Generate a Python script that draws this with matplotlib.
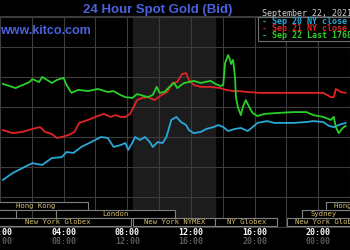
import matplotlib
matplotlib.use("Agg")
import matplotlib.pyplot as plt
from matplotlib.patches import Rectangle

# hours (NY time) and bid price for each day's trace
green_hours = [0.18, 0.98, 1.85, 2.03, 2.46, 2.65, 3.26, 3.57, 4.00, 4.18, 4.49, 4.92, 5.54, 6.15,
               6.77, 7.14, 7.57, 7.88, 8.31, 8.62, 9.29, 9.60, 9.85, 10.03, 10.34, 10.65, 10.95,
               11.14, 11.57, 11.88, 12.18, 12.62, 13.23, 13.54, 13.85, 14.03, 14.15, 14.34, 14.46,
               14.52, 14.65, 14.77, 14.83, 14.95, 15.14, 15.26, 15.45, 15.69, 15.88, 16.18, 16.62,
               17.42, 18.46, 19.26, 19.69, 20.31, 20.80, 20.98, 21.11, 21.29, 21.54, 21.72]
green_price = [1777.7, 1776.3, 1778.3, 1779.3, 1778.3, 1780.0, 1778.0, 1779.0, 1779.7, 1777.3,
               1774.7, 1775.7, 1775.3, 1776.0, 1775.0, 1775.3, 1774.0, 1773.3, 1773.0, 1774.3,
               1773.3, 1774.0, 1776.7, 1774.7, 1775.0, 1776.7, 1778.0, 1776.3, 1778.0, 1778.3,
               1778.7, 1778.0, 1778.7, 1777.7, 1777.0, 1777.3, 1784.7, 1787.3, 1785.7, 1784.3,
               1785.7, 1780.0, 1773.3, 1770.0, 1767.3, 1770.0, 1772.3, 1769.7, 1768.0, 1767.0,
               1767.7, 1768.0, 1768.3, 1768.3, 1767.3, 1766.7, 1765.7, 1766.7, 1763.3, 1761.3,
               1763.0, 1763.7]

red_hours = [0.18, 0.80, 1.42, 2.03, 2.52, 2.83, 3.26, 3.57, 3.88, 4.31, 4.68, 4.98, 5.54, 6.15,
             6.52, 6.95, 7.26, 7.57, 7.88, 8.18, 8.37, 8.62, 8.92, 9.29, 9.72, 10.15, 10.52, 10.83,
             11.14, 11.45, 11.69, 11.88, 12.18, 12.62, 13.23, 13.85, 14.22, 14.65, 14.95, 15.57,
             16.37, 17.42, 18.46, 19.69, 20.31, 20.80, 20.98, 21.11, 21.42, 21.72]
red_price = [1762.3, 1761.3, 1761.7, 1762.7, 1763.3, 1761.7, 1761.0, 1759.7, 1760.0, 1760.7,
             1761.7, 1764.7, 1765.7, 1767.0, 1767.7, 1766.7, 1767.3, 1766.7, 1766.7, 1767.7,
             1769.7, 1772.3, 1773.0, 1773.3, 1772.3, 1774.0, 1775.0, 1778.0, 1778.3, 1781.0,
             1781.3, 1779.0, 1777.3, 1776.7, 1776.7, 1776.3, 1775.7, 1775.3, 1775.3, 1775.0,
             1774.7, 1774.7, 1774.7, 1774.7, 1774.7, 1773.3, 1773.3, 1776.0, 1775.0, 1774.7]

cyan_hours = [0.18, 0.80, 1.42, 2.03, 2.65, 3.26, 3.88, 4.18, 4.62, 5.11, 5.72, 6.34, 6.77, 7.14,
              7.57, 7.88, 8.06, 8.31, 8.49, 8.80, 9.11, 9.42, 9.60, 9.91, 10.22, 10.46, 10.77,
              11.08, 11.38, 11.69, 11.88, 12.18, 12.62, 12.98, 13.42, 13.72, 14.03, 14.34, 14.77,
              15.14, 15.57, 15.88, 16.18, 16.80, 17.23, 18.46, 19.26, 19.69, 20.31, 20.68, 20.98,
              21.29, 21.72]
cyan_price = [1745.7, 1748.0, 1749.7, 1751.3, 1750.7, 1753.0, 1753.3, 1755.0, 1754.7, 1756.7,
              1758.3, 1760.0, 1759.7, 1756.7, 1757.3, 1758.0, 1755.7, 1758.0, 1760.0, 1759.0,
              1760.0, 1758.3, 1756.7, 1758.3, 1758.0, 1760.0, 1765.7, 1766.7, 1765.0, 1764.0,
              1762.3, 1761.3, 1761.7, 1762.7, 1763.3, 1764.0, 1763.3, 1762.0, 1762.7, 1763.0,
              1762.0, 1763.3, 1764.7, 1765.3, 1764.7, 1764.7, 1765.0, 1765.3, 1765.0, 1763.7,
              1763.3, 1764.0, 1764.7]

time_labels = ["00:00", "04:00", "08:00", "12:00", "16:00", "20:00"]
time_hours = [0, 4, 8, 12, 16, 20]
gmt_labels = ["04:00", "08:00", "12:00", "16:00", "20:00", "00:00"]

# trading sessions: name, start hour, end hour, row (0 = top)
sess_names = ["Hong Kong", "", "London", "New York Globex", "New York NYMEX", "NY Globex",
              "New York Globex", "Sydney", "Hong Kong"]
sess_start = [-1.0, -1.0, 3.51, -1.0, 8.37, 13.54, 18.03, 19.0, 20.5]
sess_end = [5.54, 0.98, 11.0, 8.25, 13.54, 17.42, 24.0, 24.0, 24.0]
sess_row = [0, 1, 1, 2, 2, 2, 2, 1, 0]

legend_labels = ["Sep 20 NY close 1763", "Sep 21 NY close 1774", "Sep 22 Last 1768"]
line_colors = ["#2aa8d8", "#e02424", "#28d028"]

fig = plt.figure(figsize=(3.5, 2.5), dpi=100, facecolor="black")
ax = fig.add_axes([0, 0.088, 1, 0.848])
ax.set_facecolor("black")
ax.set_xlim(0.185, 21.72)
ax.set_ylim(1729.7, 1800.3)

ax.axvspan(8.33, 13.54, color="#1c1c1c", zorder=0)
ax.set_xticks(range(0, 23, 2))
ax.set_yticks(range(1730, 1801, 10))
ax.grid(True, color="#3c3c3c", linewidth=0.8)
ax.set_axisbelow(True)
ax.tick_params(length=0, labelbottom=False, labelleft=False)
for s in ax.spines.values():
    s.set_visible(False)
ax.spines["top"].set_visible(True)
ax.spines["top"].set_color("#3c3c3c")

ax.plot(cyan_hours, cyan_price, color=line_colors[0], lw=1.3, zorder=3)
ax.plot(red_hours, red_price, color=line_colors[1], lw=1.3, zorder=3)
ax.plot(green_hours, green_price, color=line_colors[2], lw=1.3, zorder=4)

# session bars along the bottom
xt = ax.get_xaxis_transform()
row_top = [0.123, 0.085, 0.047]
row_h = 0.038
for name, s0, s1, r in zip(sess_names, sess_start, sess_end, sess_row):
    ax.add_patch(Rectangle((s0, row_top[r] - row_h), s1 - s0, row_h, transform=xt,
                           facecolor="black", edgecolor="#808080", lw=0.8, zorder=5))
    if name:
        ax.text((s0 + s1) / 2 if s1 < 23 else s0 + 0.5, row_top[r] - row_h / 2, name,
                transform=xt, ha="center" if s1 < 23 else "left", va="center",
                color="#d8c070", fontsize=5.2, family="DejaVu Sans Mono", zorder=6)

for h, t, g in zip(time_hours, time_labels, gmt_labels):
    ax.text(h, -0.022, t, transform=xt, ha="center", va="center", color="white",
            fontsize=6, family="DejaVu Sans Mono", fontweight="bold", clip_on=False)
    ax.text(h, -0.063, g, transform=xt, ha="center", va="center", color="#5a5a5a",
            fontsize=6, family="DejaVu Sans Mono", fontweight="bold", clip_on=False)

# title and site name
fig.text(158 / 350, 1 - 10 / 250, "24 Hour Spot Gold (Bid)", ha="center", va="center",
         color="#4a62e0", fontsize=9.5, fontweight="bold", family="Liberation Sans")
fig.text(0, 1 - 31 / 250, "www.kitco.com", ha="left", va="center",
         color="#4a62e0", fontsize=9, fontweight="bold", family="Liberation Sans", zorder=5)

# legend box top right
fig.text(262 / 350, 1 - 13 / 250, "September 22, 2021", ha="left", va="center",
         color="#d0d0d0", fontsize=6, family="DejaVu Sans Mono")
fig.patches.append(Rectangle((258 / 350, 1 - 41 / 250), 100 / 350, 24 / 250,
                             transform=fig.transFigure, facecolor="black",
                             edgecolor="#707070", lw=0.8, zorder=5))
for i, (lab, c) in enumerate(zip(legend_labels, line_colors)):
    fig.text(262 / 350, 1 - (21 + 7.5 * i) / 250, "- " + lab, ha="left", va="center",
             color=c, fontsize=6, family="DejaVu Sans Mono", fontweight="bold", zorder=6)

fig.savefig("out.png", dpi=100, facecolor="black")
